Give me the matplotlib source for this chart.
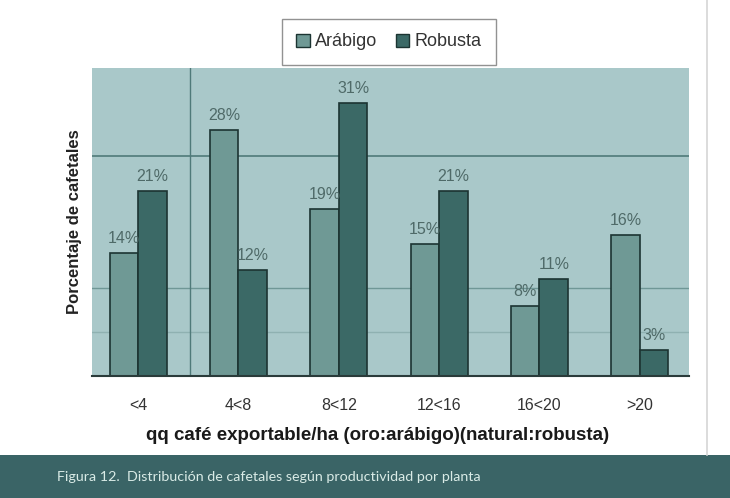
import matplotlib
matplotlib.use("Agg")
import matplotlib.pyplot as plt
import numpy as np
from matplotlib.patches import Rectangle, Patch
from matplotlib.lines import Line2D

categories = ["<4", "4<8", "8<12", "12<16", "16<20", ">20"]
arabigo = [14, 28, 19, 15, 8, 16]
robusta = [21, 12, 31, 21, 11, 3]
series_names = ["Arábigo", "Robusta"]

plt.rcParams['font.family'] = ['Liberation Sans', 'DejaVu Sans']

fig = plt.figure(figsize=(7.30, 4.98), dpi=100)
fig.patch.set_facecolor("white")

ax = fig.add_axes([92/730, 1-376/498, 597/730, 308/498])
ax.set_facecolor("#a9c8c9")

col_a = "#6f9995"
col_r = "#3b6966"
edge = "#1c3432"
w = 0.285
x = np.arange(len(categories))

ax.axhline(25, color="#4f7a79", lw=1.2, zorder=1)
ax.axhline(10, color="#6f9796", lw=1.0, zorder=1)
ax.axhline(5, color="#8fb1b1", lw=1.0, zorder=1)
ax.axvline(0.52, color="#4f7a79", lw=1.0, zorder=1)

ba = ax.bar(x - w/2, arabigo, width=w, color=col_a, edgecolor=edge, linewidth=1.2, zorder=2)
br = ax.bar(x + w/2, robusta, width=w, color=col_r, edgecolor=edge, linewidth=1.2, zorder=2)

for bars, vals in ((ba, arabigo), (br, robusta)):
    for b, v in zip(bars, vals):
        ax.annotate(f"{v}%", (b.get_x() + b.get_width()/2, v),
                    xytext=(0, 5), textcoords="offset points",
                    ha="center", va="bottom", fontsize=11.5, color="#4f6a68")

ax.set_xlim(-0.46, 5.49)
ax.set_ylim(0, 35)
ax.set_yticks([])
ax.set_xticks(x)
ax.set_xticklabels(categories, fontsize=11.5, color="#333333")
ax.tick_params(axis="x", length=0, pad=16)
for s in ("top", "right", "left"):
    ax.spines[s].set_visible(False)
ax.spines["bottom"].set_color("#2a3b3a")
ax.spines["bottom"].set_linewidth(1.5)

ax.set_xlabel("qq café exportable/ha (oro:arábigo)(natural:robusta)",
              fontsize=13.5, fontweight="bold", color="#1a1a1a")
ax.xaxis.set_label_coords(0.478, -59/308, transform=ax.transAxes)
ax.xaxis.label.set_va("center")
ax.set_ylabel("Porcentaje de cafetales", fontsize=12, fontweight="bold",
              color="#222222", labelpad=7)

handles = [Patch(facecolor=col_a, edgecolor=edge), Patch(facecolor=col_r, edgecolor=edge)]
leg = fig.legend(handles, series_names, loc="center", bbox_to_anchor=(389/730, 1-42/498),
                 ncol=2, frameon=True, fancybox=False, fontsize=13,
                 handlelength=0.75, handleheight=0.75, handletextpad=0.3,
                 columnspacing=1.0, borderpad=0.8)
leg.get_frame().set_edgecolor("#777777")
leg.get_frame().set_linewidth(1.0)
for t in leg.get_texts():
    t.set_color("#333333")

# page edge line
fig.add_artist(Line2D([707/730, 707/730], [1-455/498, 1.0], color="#d5d5d5", lw=1.2))

# bottom caption banner
fig.add_artist(Rectangle((0, 0), 1, 43/498, transform=fig.transFigure,
                         facecolor="#3a6466", edgecolor="none"))
fig.text(57/730, 1-477/498, "Figura 12.  Distribución de cafetales según productividad por planta",
         ha="left", va="center", fontsize=10.3, color="#d9ebe6", family=["Lato", "DejaVu Sans"])

fig.savefig("out.png", dpi=100, facecolor="white")
